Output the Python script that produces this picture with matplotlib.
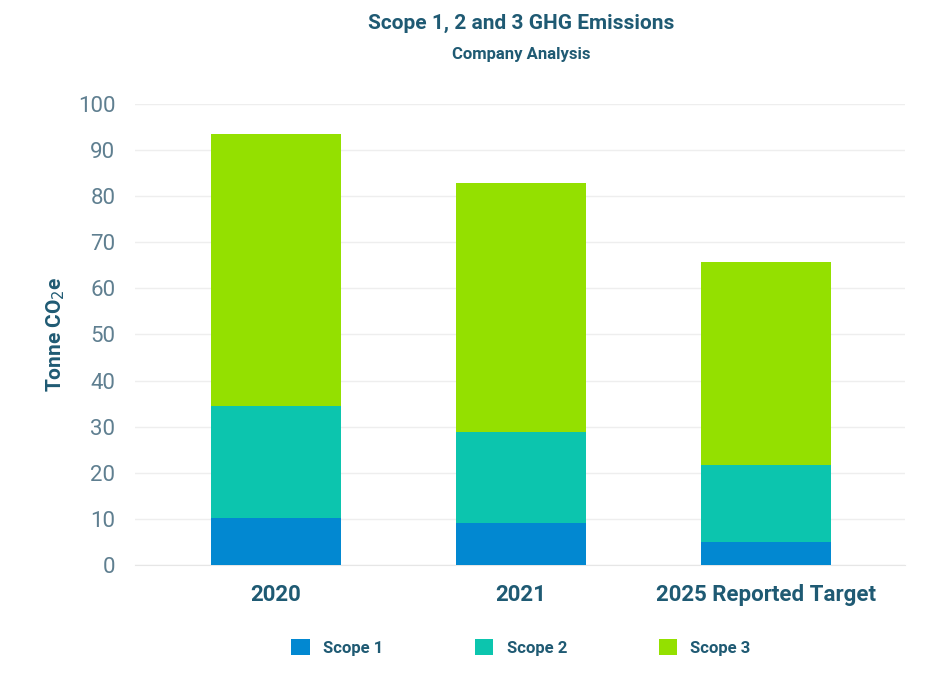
import matplotlib
matplotlib.use("Agg")
import matplotlib.pyplot as plt
import numpy as np

categories = ["2020", "2021", "2025 Reported Target"]
scope1 = [10.1, 9.2, 4.9]
scope2 = [24.4, 19.6, 16.8]
scope3 = [59.0, 54.0, 44.0]
series = ["Scope 1", "Scope 2", "Scope 3"]
colors = ["#0288D1", "#0CC5AE", "#94E000"]

plt.rcParams['font.family'] = ['Roboto', 'DejaVu Sans']
tc = "#1F5A73"
fig = plt.figure(figsize=(9.42, 6.78), dpi=100)
ax = fig.add_axes([0.143, 0.1667, 0.818, 0.68])
x = np.arange(len(categories))
w = 0.53
b = np.zeros(3)
for vals, name, c in zip([scope1, scope2, scope3], series, colors):
    ax.bar(x, vals, w, bottom=b, color=c, label=name, zorder=3)
    b += np.array(vals)
ax.set_xlim(-0.575, 2.57)
ax.set_ylim(0, 100)
ax.set_yticks(range(0, 101, 10))
ax.grid(axis='y', color='#eeeeee', lw=1, zorder=0)
for s in ax.spines.values():
    s.set_visible(False)
ax.spines['bottom'].set_visible(True)
ax.spines['bottom'].set_color('#e6e6e6')
ax.tick_params(axis='y', length=0, labelsize=16, labelcolor='#5F7F90', pad=14)
ax.tick_params(axis='x', length=0, labelsize=16, labelcolor=tc, pad=14)
ax.set_xticks(x)
ax.set_xticklabels(categories, fontweight='bold')
ax.set_ylabel("Tonne CO$_2$e", fontsize=15, fontweight='bold', color=tc, labelpad=8)
fig.text(0.553, 0.965, "Scope 1, 2 and 3 GHG Emissions", ha='center', va='center',
         fontsize=15, fontweight='bold', color=tc)
fig.text(0.553, 0.92, "Company Analysis", ha='center', va='center',
         fontsize=12, fontweight='bold', color=tc)
leg = fig.legend(loc='center', bbox_to_anchor=(0.553, 0.045), ncol=3, frameon=False,
                 fontsize=12, handlelength=1.1, handleheight=1.1, columnspacing=5.5)
for t in leg.get_texts():
    t.set_color(tc); t.set_fontweight('bold')
fig.savefig("out.png", dpi=100, facecolor='white')
